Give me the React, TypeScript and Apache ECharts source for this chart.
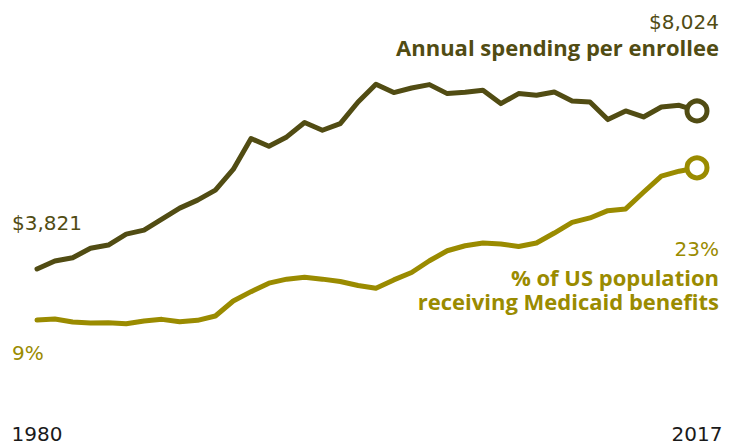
import React, { useEffect, useRef } from "react";
import * as echarts from "echarts";

const years: string[] = [];
for (let y = 1980; y <= 2017; y++) years.push(String(y));

const spendingPerEnrollee = [
  3821, 4033, 4121, 4371, 4458, 4750, 4856, 5149, 5441, 5653,
  5918, 6468, 7291, 7087, 7334, 7716, 7511, 7689, 8263, 8733,
  8513, 8635, 8725, 8486, 8520, 8573, 8220, 8486, 8441, 8528,
  8289, 8263, 7795, 8024, 7865, 8130, 8175, 8024,
];

const pctPopulation = [
  9.0, 9.09, 8.82, 8.72, 8.75, 8.66, 8.91, 9.06, 8.84, 8.97,
  9.37, 10.75, 11.61, 12.39, 12.76, 12.94, 12.76, 12.54, 12.17, 11.93,
  12.69, 13.37, 14.45, 15.37, 15.83, 16.08, 15.99, 15.77, 16.08, 17.0,
  17.98, 18.39, 19.06, 19.22, 20.75, 22.23, 22.69, 23.0,
];

const DARK = "#514c13";
const GOLD = "#9a8b00";
const BOLD_FONT = "'Open Sans', Lato, sans-serif";
const NUM_FONT = "'DejaVu Sans', 'Open Sans', sans-serif";

const fmtMoney = (v: number) => "$" + v.toLocaleString("en-US");
const fmtPct = (v: number) => Math.round(v) + "%";

export default function App() {
  const ref = useRef<HTMLDivElement>(null);
  useEffect(() => {
    if (!ref.current) return;
    const chart = echarts.init(ref.current, undefined, { renderer: "svg" });
    const last = years.length - 1;
    const endSymbol = (_v: any, p: any) => (p.dataIndex === last ? "circle" : "none");
    const txt = (pos: any, text: string, fill: string, bold: boolean) => ({
      type: "text",
      ...pos,
      style: {
        text,
        fill,
        font: bold ? `bold 22px ${BOLD_FONT}` : `20px ${NUM_FONT}`,
        lineHeight: 22,
      },
    });
    chart.setOption({
      animation: false,
      grid: { left: 37, right: 42, top: 40, bottom: 30 },
      xAxis: {
        type: "category",
        data: years,
        boundaryGap: false,
        axisLine: { show: false },
        axisTick: { show: false },
        splitLine: { show: false },
        axisLabel: {
          interval: (i: number) => i === 0 || i === last,
          margin: 7,
          color: "#1a1a1a",
          fontSize: 20,
          lineHeight: 22,
          fontFamily: NUM_FONT,
        },
      },
      yAxis: [
        { type: "value", min: -89, max: 9912, show: false },
        { type: "value", min: 0.17, max: 34.76, show: false },
      ],
      series: [
        {
          type: "line",
          yAxisIndex: 0,
          data: spendingPerEnrollee,
          lineStyle: { color: DARK, width: 5, cap: "round", join: "round" },
          itemStyle: { color: "#ffffff", borderColor: DARK, borderWidth: 5 },
          symbol: endSymbol,
          symbolSize: 20,
          showSymbol: true,
          showAllSymbol: true,
          z: 3,
        },
        {
          type: "line",
          yAxisIndex: 1,
          data: pctPopulation,
          lineStyle: { color: GOLD, width: 5, cap: "round", join: "round" },
          itemStyle: { color: "#ffffff", borderColor: GOLD, borderWidth: 5 },
          symbol: endSymbol,
          symbolSize: 20,
          showSymbol: true,
          showAllSymbol: true,
          z: 2,
        },
      ],
      graphic: [
        txt({ right: 20, top: 11 }, fmtMoney(spendingPerEnrollee[last]), DARK, false),
        txt({ right: 20, top: 36 }, "Annual spending per enrollee", DARK, true),
        txt({ left: 12, top: 212 }, fmtMoney(spendingPerEnrollee[0]), DARK, false),
        txt({ left: 12, top: 342 }, fmtPct(pctPopulation[0]), GOLD, false),
        txt({ right: 20, top: 238 }, fmtPct(pctPopulation[last]), GOLD, false),
        {
          type: "text",
          x: 719,
          y: 265,
          style: {
            text: "% of US population\nreceiving Medicaid benefits",
            fill: GOLD,
            font: `bold 22px ${BOLD_FONT}`,
            lineHeight: 24,
            align: "right",
            verticalAlign: "top",
          },
        },
      ],
    });
    return () => chart.dispose();
  }, []);
  return (
    <div
      ref={ref}
      style={{ position: "fixed", left: 0, top: 0, width: 739, height: 446, background: "#fff" }}
    />
  );
}
